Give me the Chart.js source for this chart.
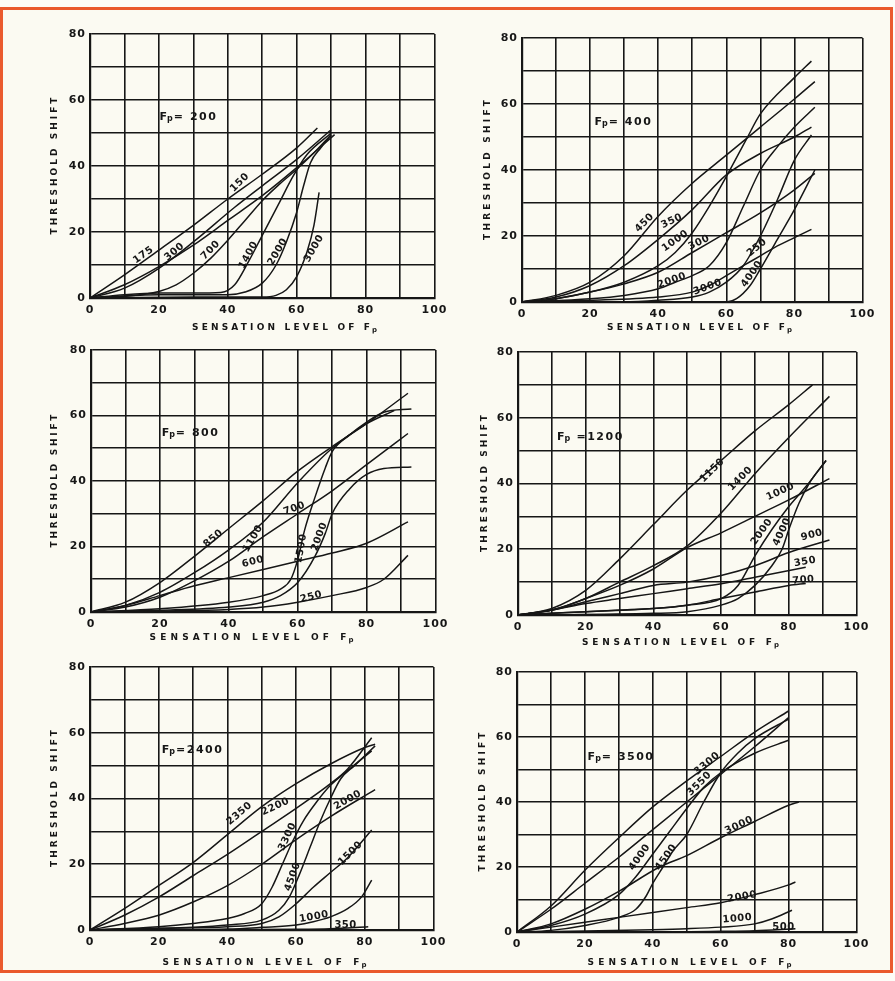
<!DOCTYPE html>
<html>
<head>
<meta charset="utf-8">
<script src="https://cdn.jsdelivr.net/npm/chart.js@4.4.1/dist/chart.umd.min.js"></script>
<style>
  html, body { margin: 0; padding: 0; }
  body { width: 895px; height: 981px; position: relative; overflow: hidden; background: #fdfdf8; }
  #frame { position: absolute; left: 0; top: 7px; width: 887px; height: 960px; border: 3px solid #ea5a2e; background: #fbfaf2; }
  canvas { position: absolute; }
</style>
</head>
<body>
<div id="frame"></div>

<script>
const INK = '#161616';
const xTicks = [0, 20, 40, 60, 80, 100];
const yTicks = [0, 20, 40, 60, 80];

// Fp = 200
const fp200Names = ['175', '150', '300', '700', '1400', '2000', '3000'];
const fp200Curves = [
  [[0,0],[10,7],[20,14.5],[30,22],[40,30],[50,37.5],[60,45.5],[66,51.5]],
  [[0,0],[10,3],[20,9],[30,17],[42,27.5],[50,34],[60,42],[70,51]],
  [[0,0],[10,4],[20,9.5],[30,16],[40,23.5],[50,31],[60,39.5],[71,49.5]],
  [[0,0],[10,0.5],[20,2],[25,4],[30,7.5],[35,12],[40,17.5],[45,23.5],[50,29.5],[55,34.5],[60,39],[65,44],[70,49.5]],
  [[0,0],[10,1],[20,1.5],[30,1.5],[38,1.7],[42,4],[46,11],[50,19],[55,29],[59,37],[63,43.5],[70,50]],
  [[0,0],[20,1],[40,1],[45,1.8],[50,4.5],[54,10],[57,17],[60,26],[62,34],[64,41],[67,45.5],[70,49.5]],
  [[0,0],[30,0.3],[50,0.3],[54,0.8],[57,2.5],[60,6.5],[63,14],[65,22],[66.5,32]]
];
const fp200Labels = [['175',15.5,13,-35],['300',24.5,14,-40],['700',35,14.5,-45],['150',43.5,35,-45],
  ['1400',46,13,-62],['2000',54.5,14,-60],['3000',65,15,-60]];

// Fp = 400
const fp400Names = ['450', '350', '1000', '300', '2000', '3000', '250', '4000'];
const fp400Curves = [
  [[0,0],[10,2],[20,6],[30,14],[40,26],[50,36],[60,44.5],[70,53],[80,61.5],[86,66.8]],
  [[0,0],[10,1.5],[20,5],[30,11],[40,19],[50,28],[60,38.5],[70,45],[80,50],[85,53]],
  [[0,0],[10,1],[20,3],[30,6],[40,11],[45,15],[50,21],[55,29],[60,38],[66,49.5],[70,57],[80,68],[85,73]],
  [[0,0],[10,1],[20,3],[30,5.5],[40,9],[50,15],[60,21],[70,27],[80,34],[86,39]],
  [[0,0],[20,1],[30,2],[40,4],[45,6],[50,8],[55,11],[60,18],[65,29],[70,40],[75,47],[80,53],[86,59]],
  [[0,0],[20,0.5],[40,1.5],[50,3],[55,5],[60,8],[65,11],[70,14],[75,17],[80,19.5],[85,22]],
  [[0,0],[30,0],[40,0.5],[50,1.5],[55,3],[60,6],[65,11],[70,20],[75,31],[80,43],[85,50.6]],
  [[0,0],[50,0],[60,0],[63,1],[67,5],[70,10],[75,19],[80,28],[86,40]]
];
const fp400Labels = [['450',36,24,-45],['350',44,24.5,-25],['1000',45,18.5,-35],['300',52,18,-25],
  ['2000',44,6.5,-20],['3000',54.5,4.5,-20],['250',69,16.5,-40],['4000',67.5,8.5,-55]];

// Fp = 800
const fp800Names = ['850', '1100', '700', '1500', '2000', '600', '250'];
const fp800Curves = [
  [[0,0],[10,3],[20,9],[30,17],[40,25.5],[50,34],[60,43],[70,50.5],[80,57.5],[92,66.8]],
  [[0,0],[10,2],[20,6],[30,12],[40,19],[50,27.5],[60,39.5],[70,50],[80,57.5],[88,61.5]],
  [[0,0],[10,1.5],[20,4.5],[30,9.5],[40,15.5],[50,23],[60,30],[70,37],[80,45],[92,54.5]],
  [[0,0],[20,1],[40,3],[50,5],[55,7],[58,10],[60,16],[62,25],[65,35],[68,44],[70,49],[75,54],[80,58],[85,61],[93,62]],
  [[0,0],[20,0.5],[40,1.5],[50,3],[55,5],[60,9],[65,17],[68,24],[70,30],[75,37.5],[80,42],[85,43.8],[93,44.3]],
  [[0,0],[10,2],[20,5],[30,8],[40,10.5],[50,13],[60,15.5],[70,18],[80,21],[92,27.5]],
  [[0,0],[20,0.3],[40,0.8],[50,1.5],[60,3],[70,5],[80,7.5],[85,10],[92,17.3]]
];
const fp800Labels = [['850',35.5,22.4,-40],['1100',47,22.4,-60],['700',59,31.6,-20],['1500',61,19.4,-80],
  ['2000',66.3,23,-70],['600',47,15.3,-15],['250',63.9,4.6,-15]];

// Fp = 1200
const fp1200Names = ['1150', '1400', '1000', '2000', '4000', '900', '350', '700'];
const fp1200Curves = [
  [[0,0],[10,2],[20,7.5],[30,17],[40,27.5],[50,38],[60,47],[70,56],[80,64],[87,70]],
  [[0,0],[10,1.5],[20,5],[30,10],[40,15],[50,21],[60,31],[70,43],[80,54],[92,66.5]],
  [[0,0],[10,1.5],[20,5],[30,9],[40,14],[50,20.5],[60,25],[70,30],[80,35],[92,41.5]],
  [[0,0],[20,1],[40,2],[50,3],[60,5],[65,9],[70,18],[75,26],[80,33],[85,39],[91,47]],
  [[0,0],[40,0.5],[50,1],[60,3],[65,5],[70,9],[75,15],[78,20],[80,26],[83,34],[86,40],[91,47]],
  [[0,0],[10,1.5],[20,4],[30,6.5],[40,9],[50,10],[60,12],[70,15],[80,19],[92,22.8]],
  [[0,0],[10,1.5],[20,3.5],[30,5],[40,6.5],[50,8],[60,9.5],[70,11.5],[85,14.5]],
  [[0,0],[10,0.5],[20,1],[30,1.5],[40,2],[50,3],[60,5],[70,7],[80,9],[85,9.6]]
];
const fp1200Labels = [['1150',57.4,44,-45],['1400',65.7,41.5,-45],['1000',77.5,37.5,-25],['2000',72,25.3,-55],
  ['4000',78,25.3,-65],['900',86.8,24.3,-15],['350',84.8,16.2,-10],['700',84.3,10.6,-5]];

// Fp = 2400
const fp2400Names = ['2350', '2200', '3300', '4500', '2000', '1500', '1000', '350'];
const fp2400Curves = [
  [[0,0],[10,6.5],[20,13.5],[30,20.5],[40,29],[50,37.5],[60,44.5],[70,50.5],[80,55.5],[83,56.5]],
  [[0,0],[10,4.5],[20,10],[30,16.5],[40,23],[50,30],[60,37],[70,44.5],[75,49],[82,58.5]],
  [[0,0],[20,1],[30,2],[40,3.5],[45,5],[50,8],[53,13],[56,20],[59,27],[62,33],[66,39],[70,44],[75,48.5],[82,54.5]],
  [[0,0],[30,0.8],[40,1.5],[50,3],[55,6],[58,10],[61,17],[64,25],[67,33],[70,40],[73,46],[77,50],[83,56]],
  [[0,0],[10,2],[20,4.5],[30,8.5],[40,13.5],[50,20],[60,27.5],[70,34.5],[83,42.7]],
  [[0,0],[20,0.5],[40,1],[50,2],[55,4],[60,8],[65,13],[70,17.5],[75,22],[82,30.4]],
  [[0,0],[40,0.3],[50,0.8],[60,1.5],[65,2.5],[70,4],[75,6.5],[79,10],[82,15.2]],
  [[0,0],[40,0.1],[60,0.2],[70,0.4],[81,1]]
];
const fp2400Labels = [['2350',43.5,35.4,-40],['2200',54,37.5,-25],['3300',57.5,28.4,-65],['4500',59,16.2,-70],
  ['2000',75,39.5,-30],['1500',75.8,23.3,-45],['1000',65.2,4,-10],['350',74.4,1.5,0]];

// Fp = 3500
const fp3500Names = ['3300', '3550', '4000', '4500', '3000', '2000', '1000', '500'];
const fp3500Curves = [
  [[0,0],[10,8],[20,19],[30,29],[40,38.5],[50,46.5],[60,54],[70,61.5],[80,68]],
  [[0,0],[10,7],[20,15],[30,23],[40,31.5],[50,40],[60,48.5],[70,57],[80,66]],
  [[0,0],[10,2],[20,5.5],[30,11.5],[35,17],[40,24],[45,31],[50,38],[55,44.5],[60,49],[70,55],[80,59]],
  [[0,0],[10,0.5],[20,2],[30,4.5],[35,7],[38,11],[40,15],[43,20],[46,25],[50,30],[55,40],[60,49],[65,55],[70,59.5],[80,65.5]],
  [[0,0],[10,2.5],[20,7],[30,12.5],[42,20],[50,23.5],[60,29],[70,34],[80,39],[83,40]],
  [[0,0],[10,1.5],[20,3],[30,4.5],[40,6],[50,7.5],[60,9],[70,11.5],[80,14.5],[82,15.4]],
  [[0,0],[20,0.3],[40,0.7],[50,1],[60,1.5],[70,2.5],[75,4],[81,6.7]],
  [[0,0],[40,0],[60,0.2],[70,0.4],[82,1]]
];
const fp3500Labels = [['3300',56,51.8,-40],['3550',53.7,45.6,-45],['4000',36.1,23,-55],['4500',43.9,23,-55],
  ['3000',65.4,32.8,-25],['2000',66.3,10.8,-10],['1000',64.9,4.1,-5],['500',78.5,1.5,0]];

// page layout: plot box [left, top, right, bottom], Fp tag spot, x title [centre, y, width], y title [x, length]
const panels = [
  { fp: '= 200', names: fp200Names, curves: fp200Curves, labels: fp200Labels, box: [90,34,436,298], fpAt: [20.2,54.8], xt: [285,328,186], yt: [55,137] },
  { fp: '= 400', names: fp400Names, curves: fp400Curves, labels: fp400Labels, box: [522,38,864,302], fpAt: [21.3,54.5], xt: [700,328,186], yt: [488,140] },
  { fp: '= 800', names: fp800Names, curves: fp800Curves, labels: fp800Labels, box: [91,350,437,612], fpAt: [20.5,54.7], xt: [252,638,205], yt: [55,133] },
  { fp: ' =1200', names: fp1200Names, curves: fp1200Curves, labels: fp1200Labels, box: [518,352,858,615], fpAt: [11.5,54.1], xt: [681,643,198], yt: [485,137] },
  { fp: '=2400', names: fp2400Names, curves: fp2400Curves, labels: fp2400Labels, box: [90,667,435,930], fpAt: [20.9,54.7], xt: [265,963,205], yt: [55,137] },
  { fp: '= 3500', names: fp3500Names, curves: fp3500Curves, labels: fp3500Labels, box: [517,672,858,932], fpAt: [20.8,53.8], xt: [690,963,205], yt: [483,139] }
];

const PAD_L = 50, PAD_T = 16, PAD_R = 16, PAD_B = 40;

function spaced(ctx, text, x, y, width) {
  ctx.letterSpacing = '0px';
  const w = ctx.measureText(text).width;
  const sp = (width - w) / (text.length - 1);
  ctx.letterSpacing = sp + 'px';
  ctx.textAlign = 'left';
  ctx.fillText(text, x, y);
}

const annot = {
  id: 'annot',
  beforeDraw(chart) {
    chart.ctx.letterSpacing = '1px';
  },
  afterDatasetsDraw(chart) {
    const p = chart.options.plugins.annot;
    const ctx = chart.ctx, xs = chart.scales.x, ys = chart.scales.y;
    const ox = p.box[0] - PAD_L, oy = p.box[1] - PAD_T;
    ctx.save();
    ctx.fillStyle = INK;
    ctx.textBaseline = 'middle';

    // curve labels
    ctx.font = 'bold 10px "DejaVu Sans"';
    ctx.letterSpacing = '0.5px';
    ctx.textAlign = 'center';
    p.labels.forEach(([t, x, y, a]) => {
      ctx.save();
      ctx.translate(xs.getPixelForValue(x), ys.getPixelForValue(y));
      ctx.rotate(a * Math.PI / 180);
      ctx.fillText(t, 0, 0);
      ctx.restore();
    });

    // Fp tag
    let fx = xs.getPixelForValue(p.fpAt[0]);
    const fy = ys.getPixelForValue(p.fpAt[1]);
    ctx.textAlign = 'left';
    ctx.letterSpacing = '0px';
    ctx.font = 'bold 11px "DejaVu Sans"';
    ctx.fillText('F', fx, fy);
    fx += ctx.measureText('F').width;
    ctx.font = 'bold 8px "DejaVu Sans"';
    ctx.fillText('p', fx, fy + 2);
    fx += ctx.measureText('p').width + 1;
    ctx.font = 'bold 11px "DejaVu Sans"';
    ctx.letterSpacing = '1.5px';
    ctx.fillText(p.fp, fx, fy);

    // x title
    ctx.font = 'bold 9px "DejaVu Sans"';
    const tx = p.xt[0] - p.xt[2] / 2 - ox, ty = p.xt[1] - oy;
    spaced(ctx, 'SENSATION LEVEL OF F', tx, ty, p.xt[2] - 8);
    ctx.letterSpacing = '0px';
    ctx.font = 'bold 7px "DejaVu Sans"';
    ctx.fillText('p', tx + p.xt[2] - 6, ty + 2);

    // y title
    ctx.font = 'bold 9px "DejaVu Sans"';
    ctx.save();
    ctx.translate(p.yt[0] - ox, (p.box[1] + p.box[3]) / 2 - oy);
    ctx.rotate(-Math.PI / 2);
    spaced(ctx, 'THRESHOLD SHIFT', -p.yt[1] / 2, 0, p.yt[1]);
    ctx.restore();

    ctx.restore();
  }
};

const tickFont = { family: 'DejaVu Sans', weight: 'bold', size: 11 };

panels.forEach((p) => {
  const [L, T, R, B] = p.box;
  const cv = document.createElement('canvas');
  cv.width = R - L + PAD_L + PAD_R;
  cv.height = B - T + PAD_T + PAD_B;
  cv.style.left = (L - PAD_L) + 'px';
  cv.style.top = (T - PAD_T) + 'px';
  document.body.appendChild(cv);

  new Chart(cv, {
    type: 'line',
    data: {
      datasets: p.curves.map((c, i) => ({
        label: p.names[i],
        data: c.map(([x, y]) => ({ x: x, y: y })),
        borderColor: INK,
        borderWidth: 1.5,
        pointRadius: 0,
        cubicInterpolationMode: 'monotone',
        fill: false
      }))
    },
    options: {
      responsive: false,
      animation: false,
      events: [],
      layout: { padding: { top: PAD_T, right: PAD_R, left: 0, bottom: 0 } },
      plugins: {
        legend: { display: false },
        tooltip: { enabled: false },
        annot: p
      },
      scales: {
        x: {
          type: 'linear', min: 0, max: 100,
          afterFit(s) { s.height = PAD_B; },
          ticks: { stepSize: 10, autoSkip: false, maxRotation: 0, padding: 6, color: INK, font: tickFont,
                   callback: v => xTicks.includes(v) ? String(v) : '' },
          grid: { color: INK, lineWidth: 1.6, drawTicks: false },
          border: { color: INK, width: 2.2 }
        },
        y: {
          min: 0, max: 80,
          afterFit(s) { s.width = PAD_L; },
          ticks: { stepSize: 10, autoSkip: false, padding: 4, color: INK, font: tickFont,
                   callback: v => yTicks.includes(v) ? String(v) : '' },
          grid: { color: INK, lineWidth: 1.6, drawTicks: false },
          border: { color: INK, width: 2.2 }
        }
      }
    },
    plugins: [annot]
  });
});
</script>
</body>
</html>
